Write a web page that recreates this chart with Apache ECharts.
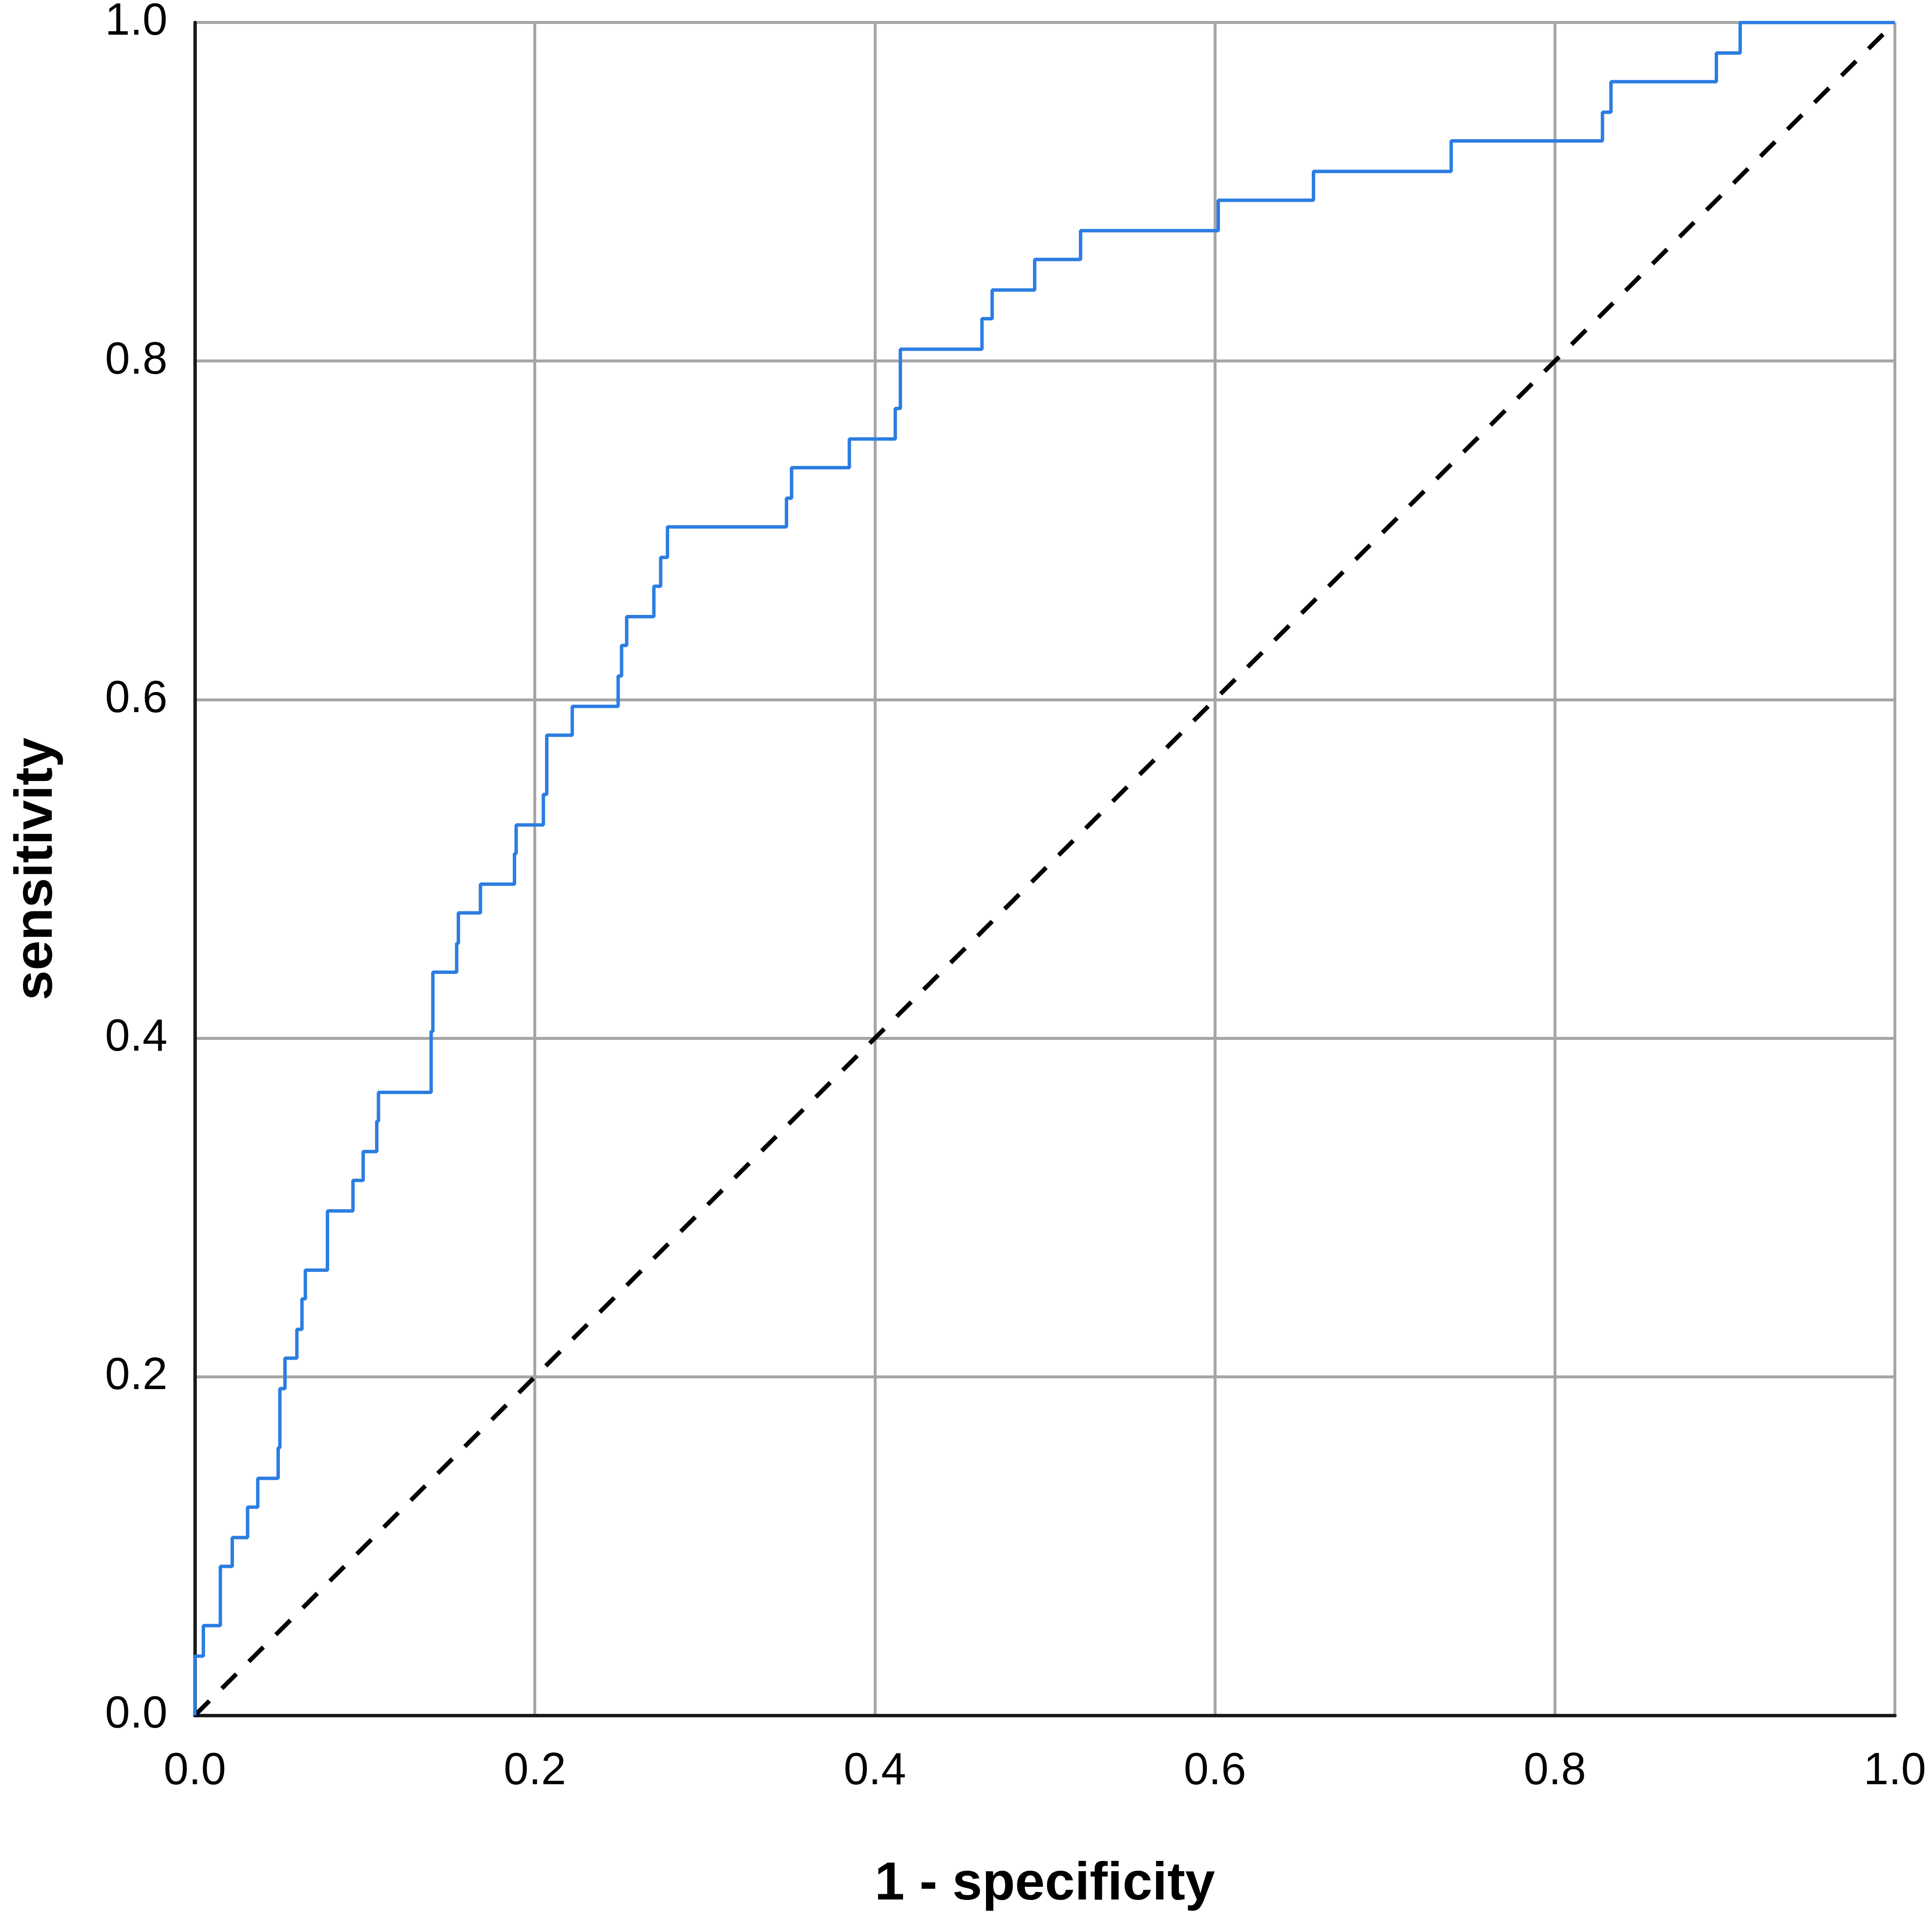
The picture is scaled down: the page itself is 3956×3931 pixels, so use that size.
<!DOCTYPE html>
<html>
<head>
<meta charset="utf-8">
<script src="https://cdn.jsdelivr.net/npm/echarts@6/dist/echarts.min.js"></script>
<style>
html,body{margin:0;padding:0;background:#fff;}
#chart{width:3956px;height:3931px;}
</style>
</head>
<body>
<div id="chart"></div>
<script>
// ROC curve points (1 - specificity, sensitivity)
const fpr = [0,0,0.005,0.005,0.015,0.015,0.022,0.022,0.031,0.031,0.037,0.037,0.049,0.049,0.050,0.050,0.053,0.053,0.060,0.060,0.063,0.063,0.065,0.065,0.078,0.078,0.093,0.093,0.099,0.099,0.107,0.107,0.108,0.108,0.139,0.139,0.140,0.140,0.154,0.154,0.155,0.155,0.168,0.168,0.188,0.188,0.189,0.189,0.205,0.205,0.207,0.207,0.222,0.222,0.249,0.249,0.251,0.251,0.254,0.254,0.270,0.270,0.274,0.274,0.278,0.278,0.348,0.348,0.351,0.351,0.385,0.385,0.412,0.412,0.415,0.415,0.463,0.463,0.469,0.469,0.494,0.494,0.521,0.521,0.602,0.602,0.658,0.658,0.739,0.739,0.828,0.828,0.833,0.833,0.895,0.895,0.909,0.909,1.0];
const tpr = [0,0.035,0.035,0.053,0.053,0.088,0.088,0.105,0.105,0.123,0.123,0.140,0.140,0.158,0.158,0.193,0.193,0.211,0.211,0.228,0.228,0.246,0.246,0.263,0.263,0.298,0.298,0.316,0.316,0.333,0.333,0.351,0.351,0.368,0.368,0.404,0.404,0.439,0.439,0.456,0.456,0.474,0.474,0.491,0.491,0.509,0.509,0.526,0.526,0.544,0.544,0.579,0.579,0.596,0.596,0.614,0.614,0.632,0.632,0.649,0.649,0.667,0.667,0.684,0.684,0.702,0.702,0.719,0.719,0.737,0.737,0.754,0.754,0.772,0.772,0.807,0.807,0.825,0.825,0.842,0.842,0.860,0.860,0.877,0.877,0.895,0.895,0.912,0.912,0.930,0.930,0.947,0.947,0.965,0.965,0.982,0.982,1.0,1.0];
// Reference (chance) line
const diagX = [0, 1];
const diagY = [0, 1];
const xAxisTitle = '1 - specificity';
const yAxisTitle = 'sensitivity';

const rocData = fpr.map((x, i) => [x, tpr[i]]);
const diagData = diagX.map((x, i) => [x, diagY[i]]);

const chart = echarts.init(document.getElementById('chart'), null, {renderer: 'canvas'});
const labelFont = {fontFamily: 'Liberation Sans, Arial, sans-serif', fontSize: 92, color: '#000'};
chart.setOption({
  animation: false,
  backgroundColor: '#ffffff',
  grid: {left: 399, right: 76, top: 30, bottom: 419, containLabel: false},
  xAxis: {
    type: 'value', min: 0, max: 1, interval: 0.2,
    name: xAxisTitle, nameLocation: 'middle', nameGap: 292,
    nameTextStyle: {fontFamily: 'Liberation Sans, Arial, sans-serif', fontSize: 110, fontWeight: 'bold', color: '#000'},
    axisLine: {show: true, onZero: false, lineStyle: {color: '#1a1a1a', width: 7}},
    axisTick: {show: false},
    axisLabel: Object.assign({margin: 70, formatter: v => v.toFixed(1)}, labelFont),
    splitLine: {show: true, lineStyle: {color: '#a6a6a6', width: 6}}
  },
  yAxis: {
    type: 'value', min: 0, max: 1, interval: 0.2,
    name: yAxisTitle, nameLocation: 'middle', nameGap: 268, nameRotate: 90,
    nameTextStyle: {fontFamily: 'Liberation Sans, Arial, sans-serif', fontSize: 110, fontWeight: 'bold', color: '#000'},
    axisLine: {show: true, onZero: false, lineStyle: {color: '#1a1a1a', width: 7}},
    axisTick: {show: false},
    axisLabel: Object.assign({margin: 56, formatter: v => v.toFixed(1)}, labelFont),
    splitLine: {show: true, lineStyle: {color: '#a6a6a6', width: 6}}
  },
  series: [
    {
      type: 'line', data: diagData, showSymbol: false, symbol: 'none',
      lineStyle: {color: '#000', width: 9, type: [42, 36]}, z: 3
    },
    {
      type: 'line', data: rocData, showSymbol: false, symbol: 'none',
      lineStyle: {color: '#2b7de2', width: 7}, z: 4
    }
  ]
});
</script>
</body>
</html>
